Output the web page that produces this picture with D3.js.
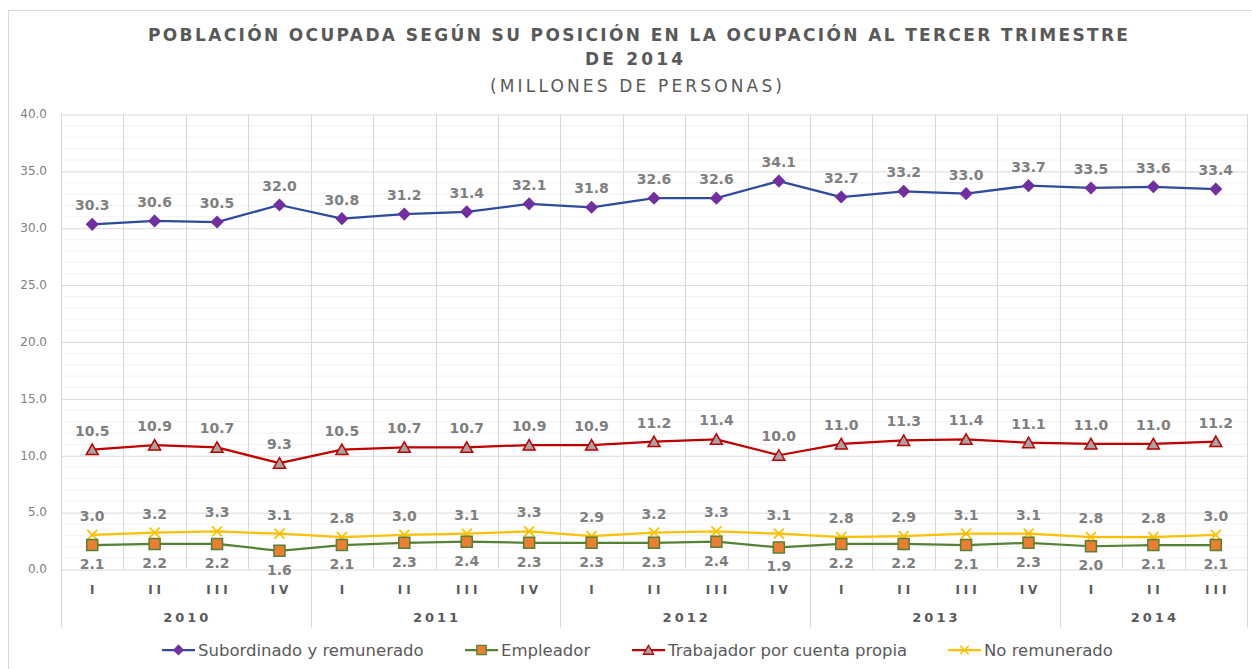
<!DOCTYPE html>
<html>
<head>
<meta charset="utf-8">
<script src="https://cdn.jsdelivr.net/npm/d3@7"></script>
<style>
  body { margin: 0; background: #fff; }
  text { font-family: "DejaVu Sans", sans-serif; }
</style>
</head>
<body>
<div id="chart"></div>
<script>
// quarters and years
const quarters = ["I","II","III","IV","I","II","III","IV","I","II","III","IV","I","II","III","IV","I","II","III"];
const years = ["2010","2011","2012","2013","2014"];
const yearSpan = [4,4,4,4,3];
const yTicks = [0,5,10,15,20,25,30,35,40];

// series (millones de personas)
const subordinado = [30.3,30.6,30.5,32.0,30.8,31.2,31.4,32.1,31.8,32.6,32.6,34.1,32.7,33.2,33.0,33.7,33.5,33.6,33.4];
const empleador   = [2.1,2.2,2.2,1.6,2.1,2.3,2.4,2.3,2.3,2.3,2.4,1.9,2.2,2.2,2.1,2.3,2.0,2.1,2.1];
const cuentaPropia = [10.5,10.9,10.7,9.3,10.5,10.7,10.7,10.9,10.9,11.2,11.4,10.0,11.0,11.3,11.4,11.1,11.0,11.0,11.2];
const noRemunerado = [3.0,3.2,3.3,3.1,2.8,3.0,3.1,3.3,2.9,3.2,3.3,3.1,2.8,2.9,3.1,3.1,2.8,2.8,3.0];

const series = [
  {name:"Subordinado y remunerado", values:subordinado, line:"#2E4B9E", fill:"#7030A0", stroke:"#7030A0", marker:"diamond", lab:"above"},
  {name:"Empleador", values:empleador, line:"#548235", fill:"#ED7D31", stroke:"#548235", marker:"square", lab:"below"},
  {name:"Trabajador por cuenta propia", values:cuentaPropia, line:"#C00000", fill:"#A5A5A5", stroke:"#C00000", marker:"triangle", lab:"above"},
  {name:"No remunerado", values:noRemunerado, line:"#FFC000", fill:"none", stroke:"#FFC000", marker:"x", lab:"above"}
];

const W = 1252, H = 669;
const svg = d3.select("#chart").append("svg").attr("width", W).attr("height", H);

// chart frame
svg.append("rect").attr("x", 8.5).attr("y", 10.5).attr("width", 1300).attr("height", 700)
  .attr("fill", "none").attr("stroke", "#D9D9D9");

const pl = 61, pr = 1247, pt = 114, pb = 569;

const x = d3.scaleBand().domain(d3.range(quarters.length)).range([pl, pr]).padding(0);
const y = d3.scaleLinear().domain([0, 40]).range([pb, pt]);

// title
const title = svg.append("g").attr("fill", "#595959").attr("text-anchor", "middle");
title.append("text").attr("x", 638).attr("y", 41).attr("font-size", 17).attr("font-weight", "bold")
  .attr("textLength", 980).attr("lengthAdjust", "spacing")
  .text("POBLACIÓN OCUPADA SEGÚN SU POSICIÓN EN LA OCUPACIÓN AL TERCER TRIMESTRE");
title.append("text").attr("x", 634).attr("y", 65).attr("font-size", 17).attr("font-weight", "bold")
  .attr("textLength", 98).attr("lengthAdjust", "spacing")
  .text("DE 2014");
title.append("text").attr("x", 636).attr("y", 92).attr("font-size", 17)
  .attr("textLength", 292).attr("lengthAdjust", "spacing")
  .text("(MILLONES DE PERSONAS)");

// minor gridlines
svg.append("g").selectAll("line").data(d3.range(0, 41, 1).filter(v => v % 5 !== 0)).join("line")
  .attr("x1", pl).attr("x2", pr).attr("y1", d => y(d) + 0.5).attr("y2", d => y(d) + 0.5)
  .attr("stroke", "#F2F2F2");

// major gridlines + y labels
const yAxis = svg.append("g").attr("transform", `translate(${pl},0)`)
  .call(d3.axisLeft(y).tickValues(yTicks).tickFormat(d3.format(".1f")).tickSize(-(pr - pl)).tickPadding(14));
yAxis.select(".domain").remove();
yAxis.selectAll(".tick line").attr("stroke", "#D9D9D9").attr("transform", "translate(0,0.5)");
yAxis.selectAll(".tick text").attr("fill", "#7F7F7F").attr("font-size", 12)
  .attr("font-family", "DejaVu Sans, sans-serif");

// vertical gridlines at category boundaries
const bounds = d3.range(quarters.length + 1).map(i => i < quarters.length ? x(i) : pr);
let cum = 0;
const yearBounds = [0].concat(yearSpan.map(s => (cum += s)));
svg.append("g").selectAll("line").data(bounds.map((b, i) => ({b, i}))).join("line")
  .attr("x1", d => Math.round(d.b) + 0.5).attr("x2", d => Math.round(d.b) + 0.5)
  .attr("y1", pt).attr("y2", d => yearBounds.includes(d.i) ? 628 : pb)
  .attr("stroke", "#D9D9D9");

// quarter labels
svg.append("g").selectAll("text").data(quarters).join("text")
  .attr("x", (d, i) => x(i) + x.bandwidth() / 2).attr("y", 594)
  .attr("text-anchor", "middle").attr("font-size", 12).attr("font-weight", "bold")
  .attr("letter-spacing", 4).attr("dx", 2).attr("fill", "#595959").text(d => d);

// year labels
svg.append("g").selectAll("text").data(years).join("text")
  .attr("x", (d, i) => (bounds[yearBounds[i]] + bounds[yearBounds[i + 1]]) / 2).attr("y", 622)
  .attr("text-anchor", "middle").attr("font-size", 13).attr("font-weight", "bold")
  .attr("letter-spacing", 3).attr("dx", 1.5).attr("fill", "#595959").text(d => d);

function markerPath(m) {
  if (m === "diamond") return "M0,-5.5L5.5,0L0,5.5L-5.5,0Z";
  if (m === "square") return d3.symbol(d3.symbolSquare, 121)();
  if (m === "triangle") return "M0,-5.5L6,5L-6,5Z";
  return "M-5,-5L5,5M-5,5L5,-5";
}

const cx = i => x(i) + x.bandwidth() / 2;
const line = d3.line().x((d, i) => cx(i)).y(d => y(d));

// draw order: yellow, green, red, blue
const drawOrder = [3, 1, 2, 0];
drawOrder.forEach(k => {
  const s = series[k];
  const g = svg.append("g");
  g.append("path").datum(s.values).attr("d", line).attr("fill", "none")
    .attr("stroke", s.line).attr("stroke-width", 2.25).attr("stroke-linejoin", "round");
  g.selectAll("path.m").data(s.values).join("path").attr("class", "m")
    .attr("transform", (d, i) => `translate(${cx(i)},${y(d)})`)
    .attr("d", markerPath(s.marker))
    .attr("fill", s.fill).attr("stroke", s.stroke)
    .attr("stroke-width", s.marker === "x" ? 1.8 : 1.5);
});

// data labels
series.forEach(s => {
  svg.append("g").selectAll("text").data(s.values).join("text")
    .attr("x", (d, i) => cx(i)).attr("y", d => y(d) + (s.lab === "above" ? -14 : 24))
    .attr("text-anchor", "middle").attr("font-size", 14).attr("font-weight", "bold")
    .attr("fill", "#7F7F7F").text(d => d3.format(".1f")(d));
});

// legend
const legendX = [162, 465, 632, 948];
const leg = svg.append("g");
series.forEach((s, k) => {
  const g = leg.append("g").attr("transform", `translate(${legendX[k]},650)`);
  g.append("line").attr("x1", 0).attr("x2", 33).attr("stroke", s.line).attr("stroke-width", 2.25);
  g.append("path").attr("transform", `translate(16.5,0) scale(0.85)`)
    .attr("d", markerPath(s.marker)).attr("fill", s.fill).attr("stroke", s.stroke)
    .attr("stroke-width", s.marker === "x" ? 1.8 : 1.5);
  g.append("text").attr("x", 36).attr("y", 6).attr("font-size", 16.5).attr("fill", "#595959").text(s.name);
});
</script>
</body>
</html>
